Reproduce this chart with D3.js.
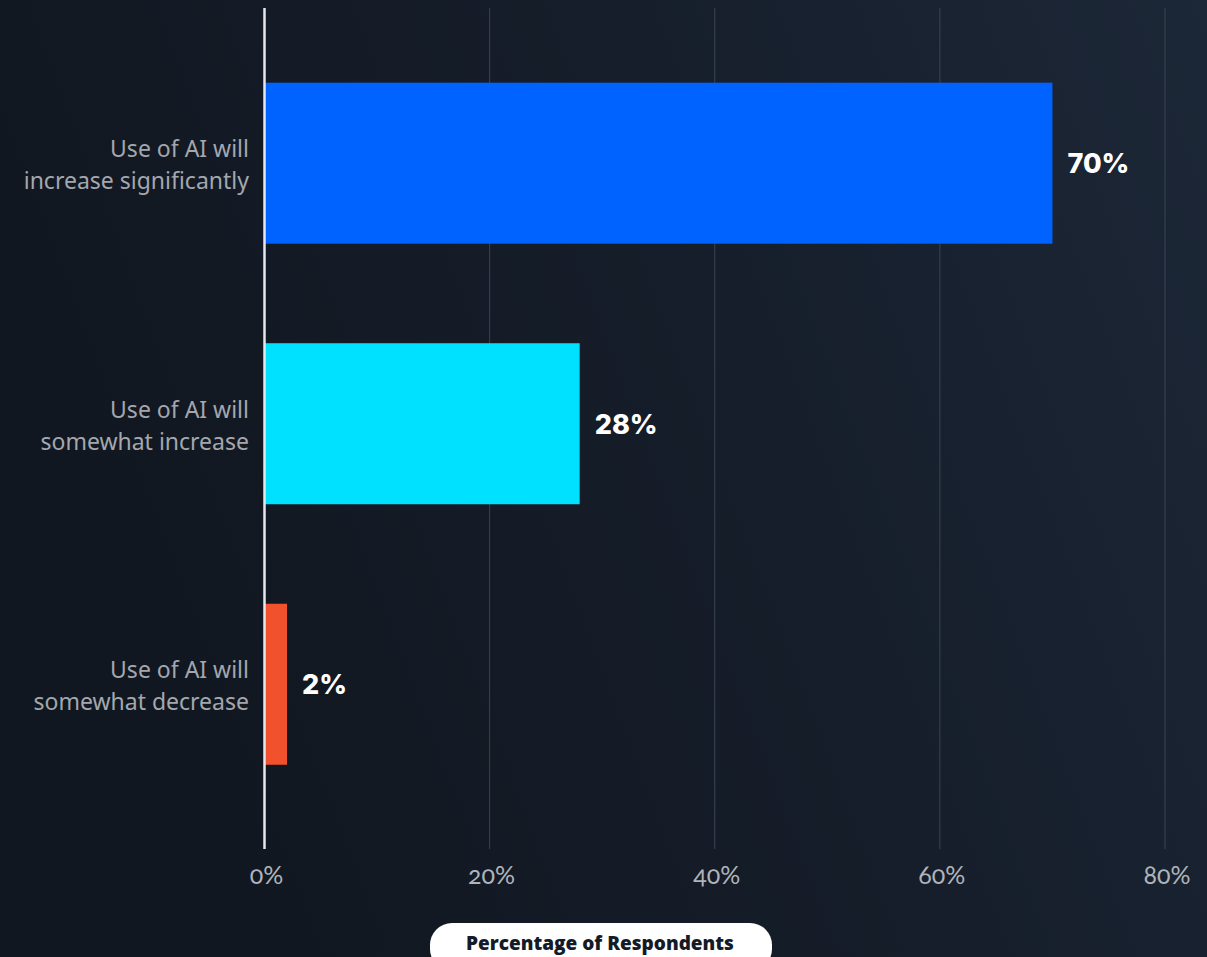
<!DOCTYPE html>
<html>
<head>
<meta charset="utf-8">
<script src="https://cdn.jsdelivr.net/npm/d3@7"></script>
<style>
  html, body { margin: 0; padding: 0; background: #141b26; }
  svg { display: block; }
</style>
</head>
<body>
<svg id="chart" width="1207" height="957"></svg>
<script>
// Survey responses: expected change in AI use
const categories = [
  ["Use of AI will", "increase significantly"],
  ["Use of AI will", "somewhat increase"],
  ["Use of AI will", "somewhat decrease"]
];
const values = [70, 28, 2];
const barColors = ["#0062ff", "#00e1ff", "#f2512d"];
const tickValues = [0, 20, 40, 60, 80];
const axisTitle = "Percentage of Respondents";

const W = 1207, H = 957;
const svg = d3.select("#chart");

// background gradient
const defs = svg.append("defs");
const grad = defs.append("linearGradient").attr("id", "bg")
  .attr("x1", "0%").attr("y1", "30%").attr("x2", "100%").attr("y2", "0%");
grad.append("stop").attr("offset", "0%").attr("stop-color", "#111720");
grad.append("stop").attr("offset", "55%").attr("stop-color", "#161e2b");
grad.append("stop").attr("offset", "100%").attr("stop-color", "#1c2737");
svg.append("rect").attr("width", W).attr("height", H).attr("fill", "url(#bg)");

const keys = categories.map(c => c.join(" "));
const plotTop = 8, plotBottom = 849;
const x = d3.scaleLinear().domain([0, 80]).range([264.5, 1165]);
const y = d3.scaleBand().domain(keys).range([plotTop, plotBottom])
  .paddingInner(0.382).paddingOuter(0.305).align(0.47);

// vertical gridlines
svg.append("g").selectAll("line")
  .data(tickValues.filter(v => v > 0))
  .join("line")
  .attr("x1", d => x(d)).attr("x2", d => x(d))
  .attr("y1", plotTop).attr("y2", plotBottom)
  .attr("stroke", "#3b4452").attr("stroke-width", 1);

// bars
svg.append("g").selectAll("rect")
  .data(values)
  .join("rect")
  .attr("x", x(0))
  .attr("y", (d, i) => y(keys[i]))
  .attr("width", d => x(d) - x(0))
  .attr("height", y.bandwidth())
  .attr("fill", (d, i) => barColors[i]);

// zero axis line
svg.append("line")
  .attr("x1", x(0)).attr("x2", x(0))
  .attr("y1", plotTop).attr("y2", plotBottom)
  .attr("stroke", "#e6e7ec").attr("stroke-width", 2.5);

// value labels
svg.append("g").selectAll("text")
  .data(values)
  .join("text")
  .attr("x", d => x(d) + 15)
  .attr("y", (d, i) => y(keys[i]) + y.bandwidth() / 2 + 10)
  .attr("fill", "#ffffff")
  .attr("font-family", "Inter, 'Open Sans', sans-serif")
  .attr("font-weight", 800)
  .attr("font-size", 27)
  .text(d => d + "%");

// category labels
const catG = svg.append("g");
categories.forEach((lines, i) => {
  const cy = y(keys[i]) + y.bandwidth() / 2;
  const t = catG.append("text")
    .attr("x", 249)
    .attr("y", cy - 6)
    .attr("text-anchor", "end")
    .attr("fill", "#a3a7ae")
    .attr("font-family", "'Noto Sans', 'Open Sans', sans-serif")
    .attr("font-size", 23);
  lines.forEach((ln, j) => {
    t.append("tspan").attr("x", 249).attr("dy", j === 0 ? 0 : 32).text(ln);
  });
});

// tick labels
svg.append("g").selectAll("text")
  .data(tickValues)
  .join("text")
  .attr("x", d => x(d) + 2)
  .attr("y", 884)
  .attr("text-anchor", "middle")
  .attr("fill", "#b0b4ba")
  .attr("font-family", "Lato, 'Noto Sans', sans-serif")
  .attr("font-weight", 400)
  .attr("font-size", 25)
  .style("font-variant-numeric", "oldstyle-nums")
  .text(d => d + "%");

// axis title pill
svg.append("rect")
  .attr("x", 430).attr("y", 923)
  .attr("width", 342).attr("height", 48)
  .attr("rx", 22)
  .attr("fill", "#ffffff");
svg.append("text")
  .attr("x", 600).attr("y", 950)
  .attr("text-anchor", "middle")
  .attr("fill", "#141b26")
  .attr("font-family", "'Open Sans', 'Noto Sans', sans-serif")
  .attr("font-weight", 800)
  .attr("font-size", 19)
  .text(axisTitle);
</script>
</body>
</html>
